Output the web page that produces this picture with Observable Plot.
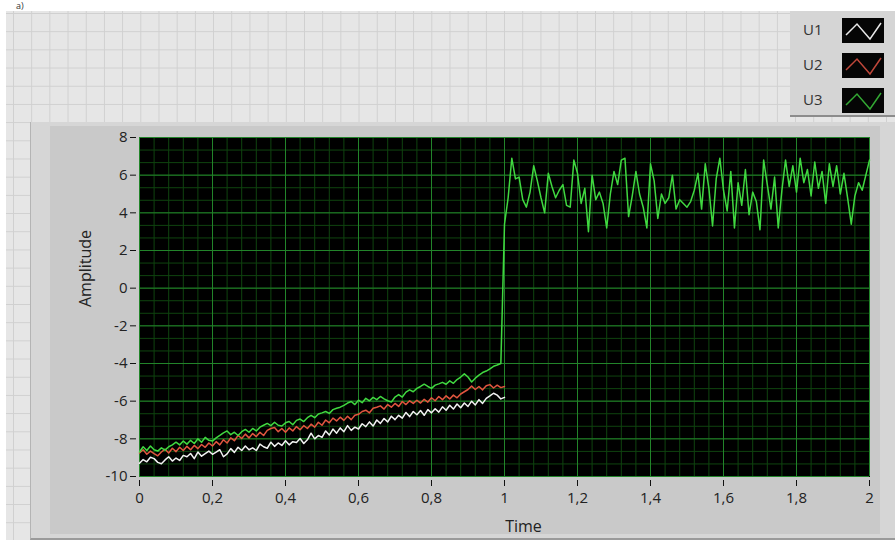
<!DOCTYPE html>
<html>
<head>
<meta charset="utf-8">
<script src="https://cdn.jsdelivr.net/npm/d3@7"></script>
<script src="https://cdn.jsdelivr.net/npm/@observablehq/plot@0.6"></script>
<style>
  html, body { margin: 0; padding: 0; background: #ffffff; }
  #stage { position: relative; width: 895px; height: 540px; overflow: hidden; font-family: "Open Sans", "Noto Sans", sans-serif; }
  .bg { position: absolute; left: 6px; top: 11px; right: 0; bottom: 0; background-color: #e6e6e6;
        background-image: linear-gradient(to right, #d0d0d0 1px, transparent 1px), linear-gradient(to bottom, #d0d0d0 1px, transparent 1px);
        background-size: 18.2px 18.2px; background-position: 7px 2px; }
  .mark { position: absolute; left: 16px; top: 1px; font-size: 9px; line-height: 10px; color: #333; }
  .panelOuter { position: absolute; left: 30px; top: 122px; width: 865px; height: 416px; background: #d6d6d6; border-left: 1px solid #b4b4b4; border-bottom: 2px solid #9a9a9a; }
  .panelInner { position: absolute; left: 50px; top: 126px; width: 830px; height: 408px; background: #c9c9c9; }
  .legend { position: absolute; left: 790px; top: 11px; width: 105px; height: 104px; background: #d5d5d5; border-bottom: 2px solid #8c8c8c; }
  .legend .row { position: absolute; left: 0; width: 100%; height: 25px; }
  .legend .lab { position: absolute; left: 13px; top: 1px; font-size: 15px; color: #333; }
  .legend svg { position: absolute; left: 52px; top: 0; }
  #chart { position: absolute; left: 0; top: 0; }
</style>
</head>
<body>
<div id="stage">
  <div class="bg"></div>
  <div class="mark">a)</div>
  <div class="panelOuter"></div>
  <div class="panelInner"></div>
  <div class="legend" id="legend"></div>
  <div id="chart"></div>
</div>
<script>
// ---- data ----
const seriesNames = ["U1", "U2", "U3"];
const seriesColors = ["#f2f2f2", "#e0553f", "#40d840"];
const swatchColors = ["#e8e8e8", "#c0473a", "#33a833"];
const xTicks = [0, 0.2, 0.4, 0.6, 0.8, 1, 1.2, 1.4, 1.6, 1.8, 2];
const yTicks = [-10, -8, -6, -4, -2, 0, 2, 4, 6, 8];
const dt = 0.01;

const u1 = [-9.30,-9.10,-9.22,-8.98,-9.05,-9.25,-9.32,-9.12,-8.95,-9.18,
  -9.02,-9.15,-8.88,-8.95,-8.78,-9.05,-8.70,-8.92,-8.78,-8.65,
  -8.82,-8.70,-8.58,-8.95,-8.80,-8.52,-8.72,-8.45,-8.62,-8.38,
  -8.58,-8.48,-8.62,-8.28,-8.42,-8.50,-8.18,-8.40,-8.22,-8.35,
  -8.10,-8.32,-8.15,-8.20,-7.98,-8.25,-8.05,-7.70,-8.00,-7.82,
  -7.92,-7.58,-7.80,-7.48,-7.70,-7.42,-7.62,-7.30,-7.55,-7.38,
  -7.48,-7.20,-7.35,-7.10,-7.32,-7.00,-7.18,-6.92,-7.10,-6.80,
  -6.98,-6.75,-6.90,-6.60,-6.82,-6.55,-6.72,-6.50,-6.75,-6.45,
  -6.62,-6.40,-6.58,-6.30,-6.48,-6.22,-6.42,-6.15,-6.35,-6.10,
  -6.28,-6.00,-6.20,-5.92,-6.12,-5.85,-5.72,-5.58,-5.68,-5.88,-5.80];

const u2 = [-8.75,-8.58,-8.82,-8.65,-8.78,-8.90,-8.70,-8.55,-8.75,-8.50,
  -8.68,-8.45,-8.62,-8.40,-8.58,-8.35,-8.52,-8.30,-8.45,-8.22,
  -8.38,-8.15,-8.32,-8.05,-8.22,-7.95,-8.10,-7.82,-7.98,-7.75,
  -7.95,-7.72,-7.88,-7.65,-7.82,-7.55,-7.45,-7.40,-7.62,-7.45,
  -7.65,-7.42,-7.58,-7.35,-7.52,-7.30,-7.45,-7.22,-7.38,-7.12,
  -7.28,-7.00,-7.15,-6.90,-7.05,-6.85,-7.02,-6.80,-6.98,-6.75,
  -6.70,-6.55,-6.48,-6.62,-6.38,-6.32,-6.25,-6.42,-6.18,-6.32,
  -6.12,-6.28,-6.02,-6.18,-5.98,-6.12,-5.95,-6.10,-5.90,-6.05,
  -5.82,-5.98,-5.75,-5.92,-5.72,-5.88,-5.68,-5.82,-5.62,-5.50,
  -5.38,-5.20,-5.38,-5.22,-5.40,-5.18,-5.12,-5.30,-5.15,-5.28,-5.22];

const u3 = [-8.70,-8.42,-8.62,-8.38,-8.58,-8.65,-8.48,-8.60,-8.42,-8.32,
  -8.18,-8.32,-8.12,-8.28,-8.08,-8.25,-8.00,-8.18,-7.92,-8.08,
  -8.12,-7.95,-7.82,-7.68,-7.58,-7.78,-7.65,-7.82,-7.62,-7.50,
  -7.65,-7.45,-7.58,-7.38,-7.28,-7.18,-7.30,-7.12,-7.28,-7.32,
  -7.15,-7.08,-7.25,-7.02,-6.95,-7.08,-6.88,-6.75,-6.88,-6.68,
  -6.62,-6.55,-6.65,-6.45,-6.38,-6.32,-6.22,-6.10,-6.02,-6.18,
  -5.95,-6.08,-5.85,-5.98,-5.80,-5.92,-5.75,-5.88,-5.98,-6.05,
  -5.78,-5.65,-5.78,-5.52,-5.40,-5.50,-5.32,-5.22,-5.10,-5.22,
  -5.32,-5.15,-5.08,-5.00,-5.10,-4.92,-5.05,-4.85,-4.72,-4.55,
  -4.72,-4.98,-4.78,-4.62,-4.48,-4.40,-4.28,-4.15,-4.08,-4.00,
  3.40, 4.80, 6.90, 5.80, 5.90, 4.70, 4.30, 5.10, 6.50, 5.70,
  4.80, 4.00, 6.10, 5.40, 4.80, 5.20, 5.50, 4.40, 4.30, 6.80,
  6.10, 4.50, 5.30, 3.00, 6.00, 4.70, 5.10, 4.50, 3.20, 5.00,
  6.20, 5.50, 6.80, 6.90, 3.80, 4.90, 6.20, 5.00, 4.30, 3.20,
  6.60, 5.70, 3.70, 5.00, 4.50, 4.80, 6.00, 4.20, 4.70, 4.50,
  4.30, 4.60, 5.20, 6.10, 4.20, 6.60, 5.30, 3.30, 5.80, 6.90,
  5.20, 4.10, 6.20, 3.20, 5.60, 4.40, 6.30, 3.90, 5.10, 4.60,
  3.10, 6.80, 5.50, 4.20, 5.90, 3.20, 5.20, 6.80, 5.40, 6.50,
  5.10, 6.90, 5.60, 6.30, 4.90, 6.70, 5.30, 6.20, 4.50, 6.60,
  5.40, 6.50, 5.00, 6.10, 4.80, 3.40, 4.90, 5.60, 5.20, 6.00, 6.80];

// ---- build table ----
const rows = [];
[u1, u2, u3].forEach((arr, s) => arr.forEach((v, i) => rows.push({series: seriesNames[s], t: +(i * dt).toFixed(2), v})));

// ---- grid positions (styling) ----
const xMinor = d3.range(0, 2.0001, 0.04);
const yMinor = d3.range(-10, 8.0001, 2 / 3);
const majorColor = "#22842a";
const minorColor = "#0f440f";
const fmt = d => String(d).replace(".", ",");

const chart = Plot.plot({
  width: 895,
  height: 540,
  marginLeft: 139,
  marginRight: 26,
  marginTop: 137,
  marginBottom: 64,
  style: {background: "transparent", fontFamily: "'Open Sans', 'Noto Sans', sans-serif", fontSize: "15px", color: "#222"},
  x: {domain: [0, 2]},
  y: {domain: [-10, 8]},
  color: {domain: seriesNames, range: seriesColors},
  marks: [
    Plot.frame({fill: "#000000", stroke: "#000000"}),
    Plot.ruleX(xMinor, {stroke: minorColor, strokeWidth: 1}),
    Plot.ruleY(yMinor, {stroke: minorColor, strokeWidth: 1}),
    Plot.ruleX(xTicks, {stroke: majorColor, strokeWidth: 1}),
    Plot.ruleY(yTicks, {stroke: majorColor, strokeWidth: 1}),
    Plot.line(rows, {x: "t", y: "v", z: "series", stroke: "series", strokeWidth: 1.5}),
    Plot.axisX({ticks: xTicks, tickFormat: fmt, tickSize: 6, tickPadding: 6, dy: 4, label: null, stroke: "#111", fontSize: 15}),
    Plot.axisY({ticks: yTicks, tickFormat: fmt, tickSize: 6, tickPadding: 3, dx: -3, label: null, stroke: "#111", fontSize: 15}),
    Plot.text(["Time"], {frameAnchor: "bottom", dx: 19, dy: 55, text: d => d, fontSize: 16, fill: "#222"}),
    Plot.text(["Amplitude"], {frameAnchor: "left", dx: -54, rotate: -90, text: d => d, fontSize: 16, fill: "#222"})
  ]
});
document.getElementById("chart").appendChild(chart);

// ---- legend ----
const legend = document.getElementById("legend");
seriesNames.forEach((name, i) => {
  const row = document.createElement("div");
  row.className = "row";
  row.style.top = (7 + i * 35) + "px";
  row.innerHTML = `<span class="lab">${name}</span>` +
    `<svg width="42" height="25"><rect width="42" height="25" fill="#050505"/>` +
    `<polyline points="4,17 15,6 28,21 39,5" fill="none" stroke="${swatchColors[i]}" stroke-width="1.5"/></svg>`;
  legend.appendChild(row);
});
</script>
</body>
</html>
